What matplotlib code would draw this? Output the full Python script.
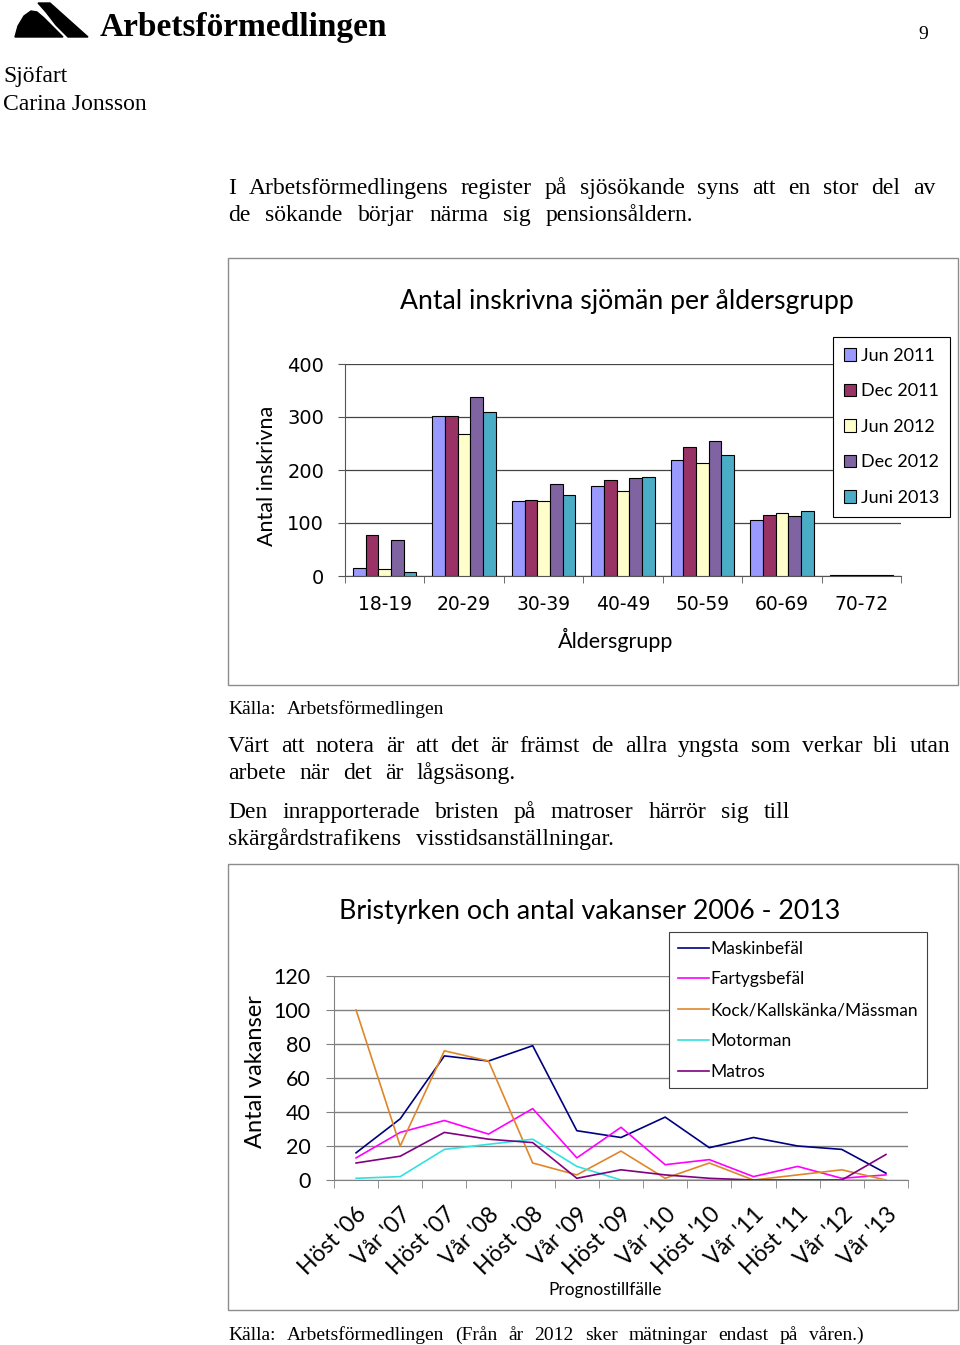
import matplotlib
matplotlib.use("Agg")
import matplotlib.pyplot as plt
from matplotlib.patches import Rectangle, Polygon
import numpy as np

W, H = 960, 1345

# --- data: bar chart ---
age_groups = ['18-19', '20-29', '30-39', '40-49', '50-59', '60-69', '70-72']
bar_series = ['Jun 2011', 'Dec 2011', 'Jun 2012', 'Dec 2012', 'Juni 2013']
jun2011 = [16, 302, 142, 169, 219, 106, 2]
dec2011 = [77, 302, 144, 182, 243, 116, 2]
jun2012 = [14, 268, 142, 160, 214, 118, 1]
dec2012 = [67, 337, 173, 184, 254, 114, 1]
juni2013 = [7, 309, 152, 186, 228, 123, 1]
bar_colors = ['#9999FF', '#993366', '#FFFFCC', '#8064A2', '#4BACC6']

# --- data: line chart ---
periods = ["Höst '06", "Vår '07", "Höst '07", "Vår '08", "Höst '08", "Vår '09",
           "Höst '09", "Vår '10", "Höst '10", "Vår '11", "Höst '11", "Vår '12", "Vår '13"]
line_series = ['Maskinbefäl', 'Fartygsbefäl', 'Kock/Kallskänka/Mässman', 'Motorman', 'Matros']
maskinbefal = [16, 36, 73, 70, 79, 29, 25, 37, 19, 25, 20, 18, 4]
fartygsbefal = [13, 28, 35, 27, 42, 13, 31, 9, 12, 2, 8, 1, 3]
kock = [100, 20, 76, 70, 10, 3, 17, 1, 10, 0, 3, 6, 0]
motorman = [1, 2, 18, 21, 24, 8, 0, 0, 0, 0, 0, 0, 0]
matros = [10, 14, 28, 24, 22, 1, 6, 3, 1, 0, 0, 0, 15]
line_colors = ['#000080', '#FF00FF', '#E0862A', '#33E0E0', '#800080']

SERIF = 'Liberation Serif'
SANS = 'Lato'
BARF = 'DejaVu Sans'


def rect(x0, y0, x1, y1):
    return [x0 / W, 1 - y1 / H, (x1 - x0) / W, (y1 - y0) / H]


fig = plt.figure(figsize=(W / 100, H / 100), dpi=100)
page = fig.add_axes([0, 0, 1, 1], zorder=0)
page.set_xlim(0, W)
page.set_ylim(H, 0)
page.axis('off')
renderer = fig.canvas.get_renderer()


def spaced_line(y, s, fs, x0, x1, max_gap=15):
    # the scanned page has wide tracking; spread the words over the line width
    words = s.split(' ')
    objs = [page.text(0, y, w, family=SERIF, fontsize=fs, va='baseline') for w in words]
    widths = [o.get_window_extent(renderer).width for o in objs]
    gap = (x1 - x0 - sum(widths)) / max(len(words) - 1, 1)
    gap = min(gap, max_gap)
    x = x0
    for o, w in zip(objs, widths):
        o.set_x(x)
        x += w + gap


# header / logo
page.add_patch(Polygon([(15, 37), (18, 26), (24, 16), (31, 11), (37, 12), (44, 18),
                        (56, 30), (63, 37)], closed=True, color='black'))
page.add_patch(Polygon([(38, 3), (50, 3), (88, 37), (68, 37), (56, 25), (46, 12)],
                       closed=True, color='black'))
page.text(100, 36, 'Arbetsförmedlingen', family=SERIF, fontsize=24, weight='bold',
          va='baseline')
page.text(928, 39, '9', family=SERIF, fontsize=14, ha='right', va='baseline')
page.text(3, 82, 'Sjöfart', family=SERIF, fontsize=17, va='baseline')
page.text(3, 110, 'Carina Jonsson', family=SERIF, fontsize=17, va='baseline')

body = [
    (194, 'I Arbetsförmedlingens register på sjösökande syns att en stor del av', 17, 935),
    (221, 'de sökande börjar närma sig pensionsåldern.', 17, 697),
    (714, 'Källa: Arbetsförmedlingen', 14, 457),
    (752, 'Värt att notera är att det är främst de allra yngsta som verkar bli utan', 17, 950),
    (779, 'arbete när det är lågsäsong.', 17, 516),
    (818, 'Den inrapporterade bristen på matroser härrör sig till', 17, 790),
    (845, 'skärgårdstrafikens visstidsanställningar.', 17, 652),
    (1340, 'Källa: Arbetsförmedlingen (Från år 2012 sker mätningar endast på våren.)', 14, 877),
]
for y, s, fs, xe in body:
    spaced_line(y, s, fs, 228, xe, max_gap=15 if fs > 15 else 11)

# chart frames
page.add_patch(Rectangle((228, 258), 730, 427, fill=False, ec='#8c8c8c', lw=1))
page.add_patch(Rectangle((228, 864), 730, 446, fill=False, ec='#8c8c8c', lw=1))

# ---------------- bar chart ----------------
ax1 = fig.add_axes(rect(345, 364, 901, 576), zorder=1)
ax1.set_facecolor('none')
x = np.arange(len(age_groups))
bw = 0.8 / 5
for i, (vals, lab, col) in enumerate(zip([jun2011, dec2011, jun2012, dec2012, juni2013],
                                          bar_series, bar_colors)):
    ax1.bar(x - 0.4 + bw * (i + 0.5), vals, width=bw, color=col, edgecolor='black',
            linewidth=0.8, label=lab, zorder=3)
ax1.set_xlim(-0.5, len(age_groups) - 0.5)
ax1.set_ylim(0, 400)
ax1.set_yticks([0, 100, 200, 300, 400])
ax1.set_xticks(x)
ax1.set_xticklabels(age_groups, family=BARF, fontsize=13.5)
ax1.set_xticks(np.arange(-0.5, len(age_groups)), minor=True)
ax1.tick_params(axis='x', which='major', length=0, pad=14)
ax1.tick_params(axis='x', which='minor', length=5, direction='out', color='#555555')
ax1.tick_params(axis='y', length=5, direction='out', pad=10, color='#555555')
for t in ax1.get_yticklabels():
    t.set_family(BARF)
    t.set_fontsize(14)
ax1.grid(axis='y', color='#444444', lw=0.9, zorder=0)
for s in ['top', 'right']:
    ax1.spines[s].set_visible(False)
for s in ['left', 'bottom']:
    ax1.spines[s].set_color('#555555')
ax1.set_axisbelow(True)
page.text(627, 301, 'Antal inskrivna sjömän per åldersgrupp', family=SANS, fontsize=19.2,
          ha='center', va='center')
page.text(267, 476, 'Antal inskrivna', family=SANS, fontsize=15.5, rotation=90,
          ha='center', va='center')
page.text(616, 640, 'Åldersgrupp', family=SANS, fontsize=15.5, ha='center', va='center')
leg1 = ax1.legend(loc='upper left', bbox_to_anchor=(833 / W, 1 - 337 / H),
                  bbox_transform=fig.transFigure, borderaxespad=0, frameon=True,
                  fancybox=False, edgecolor='black', framealpha=1,
                  prop={'family': SANS, 'size': 13}, handlelength=0.7, handleheight=0.7,
                  handletextpad=0.25, labelspacing=1.08, borderpad=0.6)
leg1.get_frame().set_linewidth(0.8)

# ---------------- line chart ----------------
ax2 = fig.add_axes(rect(334, 976, 908, 1180), zorder=1)
ax2.set_facecolor('none')
xp = np.arange(len(periods))
for vals, lab, col in zip([maskinbefal, fartygsbefal, kock, motorman, matros],
                          line_series, line_colors):
    ax2.plot(xp, vals, color=col, lw=1.2, label=lab, zorder=3)
ax2.set_xlim(-0.5, len(periods) - 0.5)
ax2.set_ylim(0, 120)
ax2.set_yticks(np.arange(0, 121, 20))
ax2.set_xticks(xp)
ax2.set_xticklabels(periods, family=SANS, fontsize=16.5, rotation=45, ha='right',
                    rotation_mode='anchor')
ax2.set_xticks(np.arange(-0.5, len(periods)), minor=True)
ax2.tick_params(axis='x', which='major', length=0, pad=17)
ax2.tick_params(axis='x', which='minor', length=6, direction='out', color='#808080')
ax2.tick_params(axis='y', length=6, direction='out', pad=11, color='#808080')
for t in ax2.get_yticklabels():
    t.set_family(SANS)
    t.set_fontsize(15.5)
ax2.grid(axis='y', color='#808080', lw=1, zorder=0)
for s in ['top', 'right']:
    ax2.spines[s].set_visible(False)
for s in ['left', 'bottom']:
    ax2.spines[s].set_color('#808080')
page.text(590, 911, 'Bristyrken och antal vakanser 2006 - 2013', family=SANS, fontsize=19.3,
          ha='center', va='center')
page.text(256, 1072, 'Antal vakanser', family=SANS, fontsize=17, rotation=90,
          ha='center', va='center')
page.text(605, 1290, 'Prognostillfälle', family=SANS, fontsize=12.5, ha='center',
          va='center')
leg2 = ax2.legend(loc='upper left', bbox_to_anchor=(669 / W, 1 - 932 / H),
                  bbox_transform=fig.transFigure, borderaxespad=0, frameon=True,
                  fancybox=False, edgecolor='#404040', framealpha=1,
                  prop={'family': SANS, 'size': 12.5}, handlelength=1.8,
                  handletextpad=0.1, labelspacing=0.85, borderpad=0.5)
leg2.get_frame().set_linewidth(0.8)
leg2.set_zorder(5)

fig.savefig('out.png', dpi=100)
